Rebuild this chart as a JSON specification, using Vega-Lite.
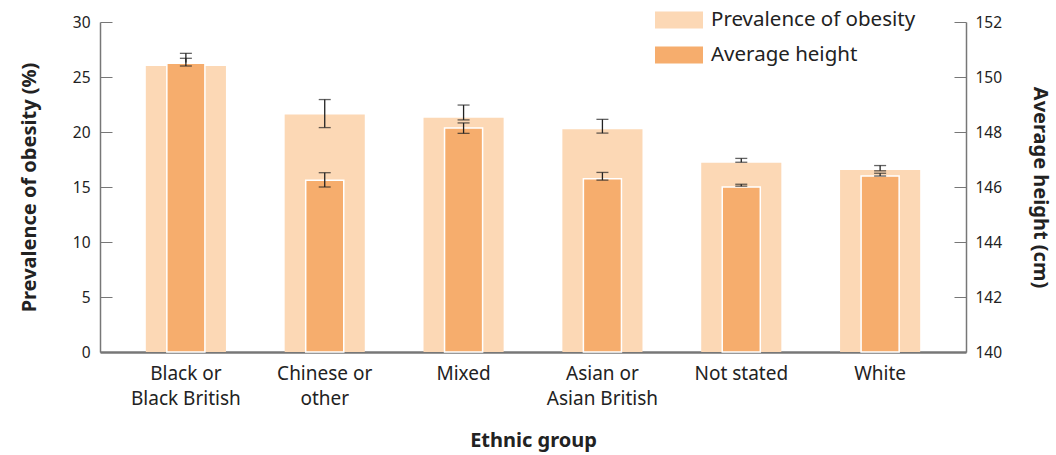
{
  "$schema": "https://vega.github.io/schema/vega-lite/v6.json",
  "autosize": "none",
  "width": 866,
  "height": 330,
  "padding": {"left": 100, "top": 22, "right": 90, "bottom": 103},
  "config": {
    "font": "Noto Sans",
    "view": {"stroke": null},
    "axis": {
      "labelFont": "Noto Sans",
      "labelColor": "#222222",
      "titleFont": "Noto Sans",
      "titleColor": "#222222",
      "titleFontWeight": "bold",
      "titleFontSize": 20,
      "domainColor": "#777777",
      "tickColor": "#777777",
      "grid": false
    }
  },
  "data": {
    "values": [
      {"group": "Black or|Black British", "prev": 26.0, "prev_lo": 24.9, "prev_hi": 27.15, "height": 150.5, "h_lo": 150.4, "h_hi": 150.68},
      {"group": "Chinese or|other", "prev": 21.6, "prev_lo": 20.4, "prev_hi": 22.95, "height": 146.25, "h_lo": 146.0, "h_hi": 146.52},
      {"group": "Mixed", "prev": 21.3, "prev_lo": 21.1, "prev_hi": 22.45, "height": 148.15, "h_lo": 147.95, "h_hi": 148.33},
      {"group": "Asian or|Asian British", "prev": 20.25, "prev_lo": 19.9, "prev_hi": 21.15, "height": 146.3, "h_lo": 146.25, "h_hi": 146.53},
      {"group": "Not stated", "prev": 17.2, "prev_lo": 17.25, "prev_hi": 17.6, "height": 146.0, "h_lo": 146.03, "h_hi": 146.1},
      {"group": "White", "prev": 16.55, "prev_lo": 16.47, "prev_hi": 16.95, "height": 146.4, "h_lo": 146.4, "h_hi": 146.5}
    ]
  },
  "encoding": {
    "x": {
      "field": "group",
      "type": "nominal",
      "sort": null,
      "scale": {"paddingInner": 0.423, "paddingOuter": 0.33},
      "axis": {
        "title": "Ethnic group",
        "titlePadding": 22,
        "labelAngle": 0,
        "labelFontSize": 19,
        "labelPadding": 12,
        "labelLineHeight": 25,
        "labelExpr": "split(datum.label, '|')",
        "ticks": false,
        "domainWidth": 2.5,
        "domainColor": "#777777"
      }
    }
  },
  "layer": [
    {
      "layer": [
        {
          "mark": {"type": "bar"},
          "encoding": {
            "y": {
              "field": "prev",
              "type": "quantitative",
              "scale": {"domain": [0, 30]},
              "axis": {
                "orient": "left",
                "title": "Prevalence of obesity (%)",
                "values": [0, 5, 10, 15, 20, 25, 30],
                "labelFontSize": 15.5,
                "tickSize": -12,
                "labelPadding": 22,
                "titlePadding": 33,
                "domainWidth": 1.5
              }
            },
            "color": {
              "datum": "Prevalence of obesity",
              "type": "nominal",
              "scale": {
                "domain": ["Prevalence of obesity", "Average height"],
                "range": ["#fcd8b5", "#f6ad6d"]
              },
              "legend": {
                "title": null,
                "orient": "none",
                "legendX": 555,
                "legendY": -26,
                "symbolType": "M-1,-0.354H1V0.354H-1Z",
                "symbolSize": 2304,
                "symbolStrokeWidth": 0,
                "symbolOpacity": 1,
                "labelFont": "Noto Sans",
                "labelFontSize": 20.5,
                "labelLimit": 400,
                "labelColor": "#222222",
                "labelOffset": 8,
                "rowPadding": 0
              }
            }
          }
        },
        {
          "mark": {"type": "errorbar", "ticks": {"size": 12}, "color": "#222222", "thickness": 1.3},
          "encoding": {
            "y": {"field": "prev_lo", "type": "quantitative", "title": "Prevalence of obesity (%)"},
            "y2": {"field": "prev_hi"}
          }
        }
      ]
    },
    {
      "layer": [
        {
          "mark": {"type": "bar", "width": {"band": 0.475}, "stroke": "white", "strokeWidth": 1.5},
          "encoding": {
            "y": {
              "field": "height",
              "type": "quantitative",
              "scale": {"domain": [140, 152], "zero": false},
              "axis": {
                "orient": "right",
                "title": "Average height (cm)",
                "values": [140, 142, 144, 146, 148, 150, 152],
                "labelFontSize": 15.5,
                "tickSize": -12,
                "labelPadding": 21,
                "titlePadding": 28,
                "domainWidth": 1.5
              }
            },
            "y2": {"datum": 140},
            "color": {"datum": "Average height", "type": "nominal"}
          }
        },
        {
          "mark": {"type": "errorbar", "ticks": {"size": 12}, "color": "#222222", "thickness": 1.3},
          "encoding": {
            "y": {"field": "h_lo", "type": "quantitative", "title": "Average height (cm)"},
            "y2": {"field": "h_hi"}
          }
        }
      ]
    }
  ],
  "resolve": {"scale": {"y": "independent"}}
}
